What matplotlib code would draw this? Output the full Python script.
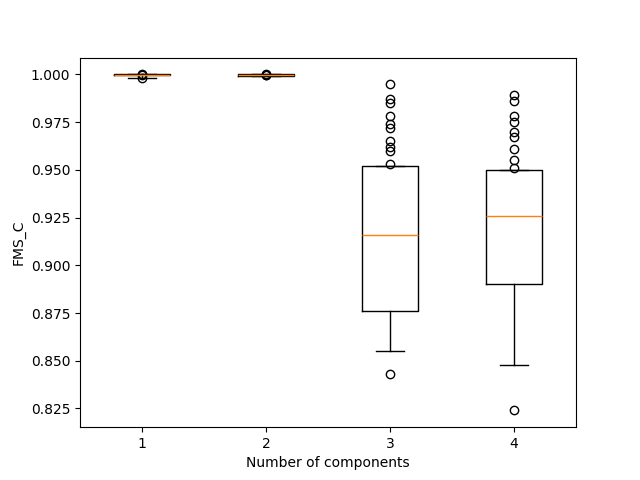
import matplotlib
matplotlib.use("Agg")
import matplotlib.pyplot as plt

labels = ["1", "2", "3", "4"]
q1 = [0.9995, 0.9993, 0.876, 0.890]
med = [0.9999, 0.9998, 0.916, 0.926]
q3 = [1.0, 1.0, 0.952, 0.950]
whislo = [0.998, 0.9990, 0.855, 0.848]
whishi = [1.0, 1.0, 0.952, 0.950]
fliers = [
    [1.0, 0.9998, 0.998],
    [0.9995, 1.0, 0.9999],
    [0.995, 0.987, 0.985, 0.978, 0.974, 0.972, 0.965, 0.962, 0.960, 0.953, 0.843],
    [0.989, 0.986, 0.978, 0.975, 0.970, 0.967, 0.961, 0.955, 0.951, 0.824],
]

stats = [dict(label=l, q1=a, med=m, q3=b, whislo=lo, whishi=hi, fliers=f)
         for l, a, m, b, lo, hi, f in zip(labels, q1, med, q3, whislo, whishi, fliers)]

fig, ax = plt.subplots(figsize=(6.4, 4.8), dpi=100)
ax.bxp(stats)
ax.set_xlabel("Number of components")
ax.set_ylabel("FMS_C")
fig.savefig("out.png")
